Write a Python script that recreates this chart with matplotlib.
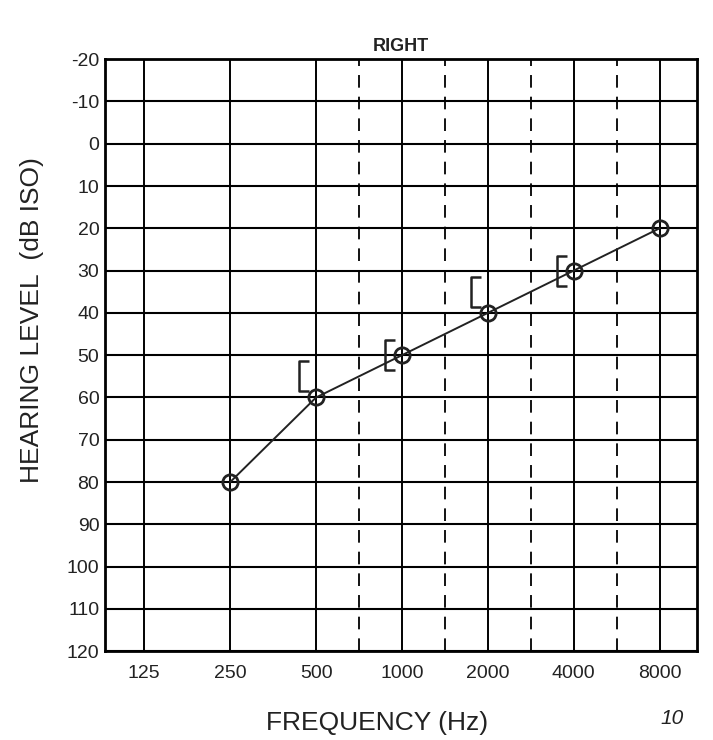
import numpy as np
import matplotlib
matplotlib.use("Agg")
import matplotlib.pyplot as plt
import matplotlib.transforms as mtransforms
from matplotlib.path import Path

plt.rcParams['font.family'] = ['Liberation Sans', 'DejaVu Sans']

# audiogram values (right ear)
freqs = [250, 500, 1000, 2000, 4000, 8000]
air_db = [80, 60, 50, 40, 30, 20]
bone_freqs = [500, 1000, 2000, 4000]
bone_db = [55, 50, 35, 30]

octave_ticks = [125, 250, 500, 1000, 2000, 4000, 8000]
tick_labels = ["125", "250", "500", "1000", "2000", "4000", "8000"]
half_octaves = [500 * np.sqrt(2), 1000 * np.sqrt(2), 2000 * np.sqrt(2), 4000 * np.sqrt(2)]
db_ticks = list(range(-20, 121, 10))

ink = "#222222"

fig = plt.figure(figsize=(7.13, 7.40), dpi=100)
ax = fig.add_axes([0.147, 0.120, 0.831, 0.800])

ax.set_xscale("log", base=2)
ax.set_xlim(125 / 2 ** 0.46, 8000 * 2 ** 0.44)
ax.set_ylim(120, -20)

# grid
for f in octave_ticks:
    ax.axvline(f, color="black", lw=1.4, zorder=1)
for f in half_octaves:
    ax.axvline(f, color="black", lw=1.3, ls=(0, (7, 5)), zorder=1)
for d in db_ticks:
    ax.axhline(d, color="black", lw=1.5, zorder=1)

# air conduction
ax.plot(freqs, air_db, color=ink, lw=1.4, zorder=3)
ax.plot(freqs, air_db, ls="none", marker="o", ms=11, mfc="none",
        mec=ink, mew=2.0, zorder=4)

# bone conduction "[" marks, drawn a little left of the frequency line
bracket = Path([(0.35, 1.0), (-0.35, 1.0), (-0.35, -1.0), (0.35, -1.0)],
               [Path.MOVETO, Path.LINETO, Path.LINETO, Path.LINETO])
shift = mtransforms.offset_copy(ax.transData, fig=fig, x=-12, y=0, units="dots")
ax.plot(bone_freqs, bone_db, ls="none", marker=bracket, ms=22, mfc="none",
        mec=ink, mew=1.8, transform=shift, zorder=4)

ax.set_xticks(octave_ticks)
ax.set_xticklabels(tick_labels)
ax.minorticks_off()
ax.set_yticks(db_ticks)
ax.set_yticklabels([str(d) for d in db_ticks])
ax.tick_params(axis="both", length=0, labelsize=14, colors=ink)
ax.tick_params(axis="x", pad=10)
ax.tick_params(axis="y", pad=4)

for s in ax.spines.values():
    s.set_linewidth(2)

ax.set_title("RIGHT", fontsize=13, fontweight="bold", pad=6, color=ink)
ax.set_ylabel("HEARING LEVEL  (dB ISO)", fontsize=19, color=ink)
ax.yaxis.set_label_coords(-0.103, 0.56)

fig.text(0.529, 0.013, "FREQUENCY (Hz)", fontsize=19, color=ink, ha="center")
fig.text(0.943, 0.022, "10", fontsize=15, style="italic", color=ink, ha="center")

fig.savefig("out.png", dpi=100, facecolor="white")
